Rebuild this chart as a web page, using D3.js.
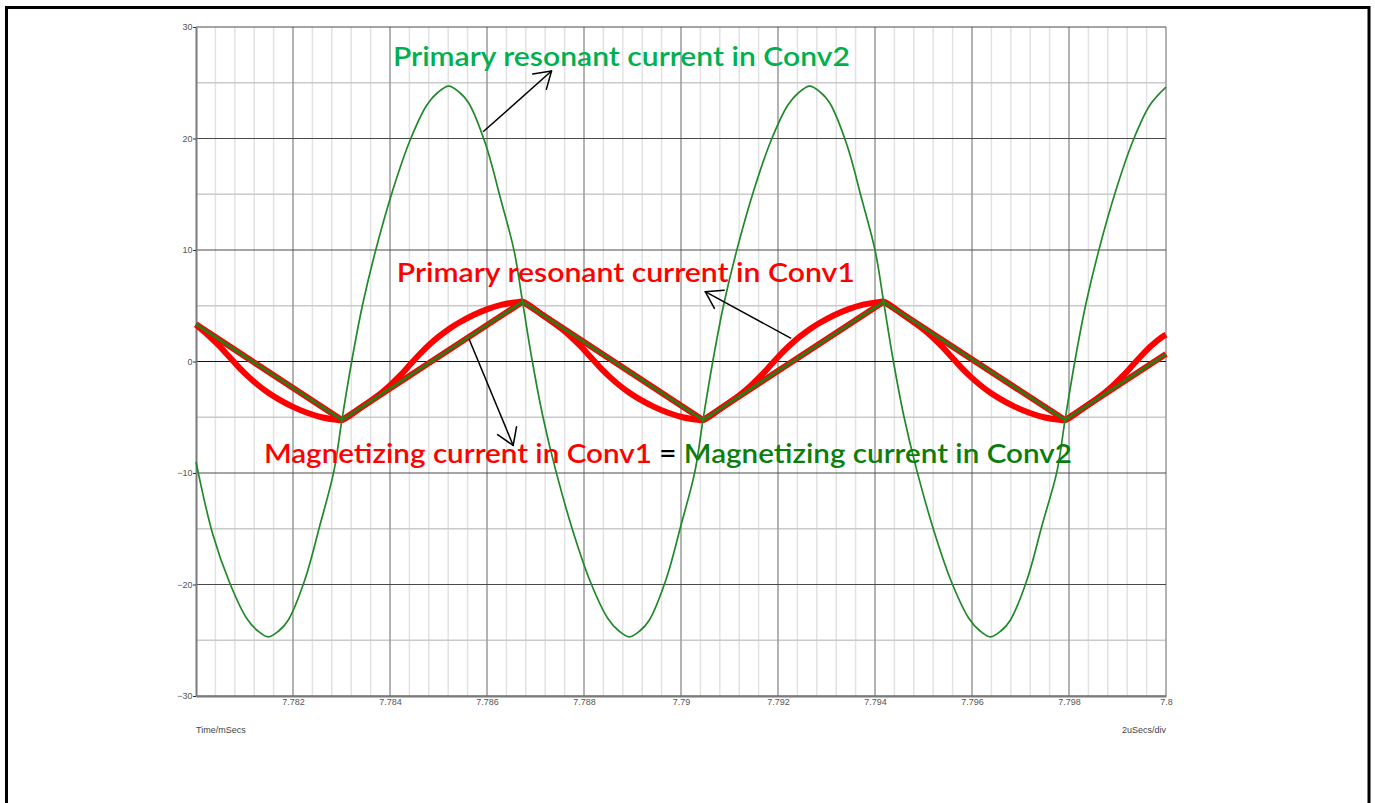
<!DOCTYPE html>
<html>
<head>
<meta charset="utf-8">
<script src="https://cdn.jsdelivr.net/npm/d3@7"></script>
<style>
    body { margin: 0; background: #fff; }
    svg { display: block; }
    .axis text { font-family: "Liberation Sans Narrow", "Arial Narrow", "Liberation Sans", sans-serif; font-size: 9px; fill: #555; }
    .note { font-family: Lato, "Open Sans", sans-serif; font-size: 27px; font-weight: 600; }
    .foot { font-family: "Liberation Sans Narrow", "Arial Narrow", "Liberation Sans", sans-serif; font-size: 9px; fill: #444; }
</style>
</head>
<body>
<div class="container"></div>
<script>
// axis ticks (time in mSecs, current in A)
const xTickValues = [7.782, 7.784, 7.786, 7.788, 7.79, 7.792, 7.794, 7.796, 7.798, 7.8];
const xTickLabels = ["7.782", "7.784", "7.786", "7.788", "7.79", "7.792", "7.794", "7.796", "7.798", "7.8"];
const yTickValues = [-30, -20, -10, 0, 10, 20, 30];
const yMinorValues = [-25, -15, -5, 5, 15, 25];

// primary resonant current in Conv2 [time, current]
const conv2Resonant = [
    [7.780000, -9.0], [7.780340, -15.4], [7.780690, -19.8], [7.781040, -23.0], [7.781270, -24.15],
    [7.781490, -24.7], [7.781710, -24.15], [7.781900, -23.2], [7.782250, -19.5], [7.782560, -14.6],
    [7.782840, -9.9], [7.783010, -5.2],
    [7.783210, 0.0], [7.783430, 5.0], [7.783700, 9.9], [7.784060, 15.4], [7.784410, 19.8],
    [7.784760, 23.0], [7.784990, 24.15], [7.785210, 24.7], [7.785430, 24.15], [7.785620, 23.2],
    [7.785970, 19.5], [7.786280, 14.6], [7.786560, 9.9], [7.786735, 5.3],
    [7.786935, 0.0], [7.787155, -5.0], [7.787425, -9.9], [7.787785, -15.4], [7.788135, -19.8],
    [7.788485, -23.0], [7.788715, -24.15], [7.788935, -24.7], [7.789155, -24.15], [7.789345, -23.2],
    [7.789695, -19.5], [7.790005, -14.6], [7.790285, -9.9], [7.790455, -5.2],
    [7.790655, 0.0], [7.790875, 5.0], [7.791145, 9.9], [7.791505, 15.4], [7.791855, 19.8],
    [7.792205, 23.0], [7.792435, 24.15], [7.792655, 24.7], [7.792875, 24.15], [7.793065, 23.2],
    [7.793415, 19.5], [7.793725, 14.6], [7.794005, 9.9], [7.794180, 5.3],
    [7.794380, 0.0], [7.794600, -5.0], [7.794870, -9.9], [7.795230, -15.4], [7.795580, -19.8],
    [7.795930, -23.0], [7.796160, -24.15], [7.796380, -24.7], [7.796600, -24.15], [7.796790, -23.2],
    [7.797140, -19.5], [7.797450, -14.6], [7.797750, -9.9], [7.797920, -5.2],
    [7.798120, 0.0], [7.798340, 5.0], [7.798610, 9.9], [7.798970, 15.4], [7.799320, 19.8],
    [7.799670, 23.0], [7.800000, 24.6]
];

// primary resonant current in Conv1 [time, current]
const conv1Resonant = [
    [7.780000, 3.3], [7.780290, 2.2], [7.780490, 1.35], [7.780690, 0.4], [7.780890, -0.55],
    [7.781090, -1.4], [7.781290, -2.15], [7.781490, -2.8], [7.781690, -3.35], [7.781990, -4.05],
    [7.782290, -4.6], [7.782590, -5.0], [7.782890, -5.22], [7.783010, -5.25],
    [7.783410, -4.1], [7.783810, -2.85], [7.784010, -2.1], [7.784210, -1.25], [7.784410, -0.3],
    [7.784610, 0.65], [7.784810, 1.5], [7.785010, 2.25], [7.785210, 2.9], [7.785410, 3.45],
    [7.785710, 4.15], [7.786010, 4.7], [7.786310, 5.1], [7.786610, 5.32], [7.786735, 5.36],
    [7.787135, 4.2], [7.787535, 2.95], [7.787735, 2.2], [7.787935, 1.35], [7.788135, 0.4],
    [7.788335, -0.55], [7.788535, -1.4], [7.788735, -2.15], [7.788935, -2.8], [7.789135, -3.35],
    [7.789435, -4.05], [7.789735, -4.6], [7.790035, -5.0], [7.790335, -5.22], [7.790455, -5.25],
    [7.790855, -4.1], [7.791255, -2.85], [7.791455, -2.1], [7.791655, -1.25], [7.791855, -0.3],
    [7.792055, 0.65], [7.792255, 1.5], [7.792455, 2.25], [7.792655, 2.9], [7.792855, 3.45],
    [7.793155, 4.15], [7.793455, 4.7], [7.793755, 5.1], [7.794055, 5.32], [7.794180, 5.36],
    [7.794580, 4.2], [7.794980, 2.95], [7.795180, 2.2], [7.795380, 1.35], [7.795580, 0.4],
    [7.795780, -0.55], [7.795980, -1.4], [7.796180, -2.15], [7.796380, -2.8], [7.796580, -3.35],
    [7.796880, -4.05], [7.797180, -4.6], [7.797480, -5.0], [7.797800, -5.22], [7.797920, -5.25],
    [7.798320, -4.1], [7.798720, -2.85], [7.798920, -2.1], [7.799120, -1.25], [7.799320, -0.3],
    [7.799520, 0.65], [7.799720, 1.5], [7.799920, 2.2], [7.800000, 2.4]
];

// magnetizing current, same in Conv1 and Conv2 [time, current]
const magnetizing = [
    [7.780000, 3.34], [7.783010, -5.25], [7.786735, 5.36], [7.790455, -5.25],
    [7.794180, 5.36], [7.797920, -5.25], [7.800000, 0.68]
];

//Set up chart
const
    svgWidth = 1375,
    svgHeight = 803;

const margin = {
    top: 27,
    right: 209,
    bottom: 107,
    left: 196
};

const svg = d3.select(".container")
    .append("svg")
    .attr("width", svgWidth)
    .attr("height", svgHeight);

// outer frame
svg.append("rect")
    .attr("x", 6.5)
    .attr("y", 7.5)
    .attr("width", 1362.5)
    .attr("height", 820)
    .attr("fill", "none")
    .attr("stroke", "#000")
    .attr("stroke-width", 3);

const x = d3.scaleLinear()
    .domain([7.78, 7.8])
    .range([margin.left, svgWidth - margin.right]);

const y = d3.scaleLinear()
    .domain([-30, 30])
    .range([svgHeight - margin.bottom, margin.top]);

const grid = svg.append("g");

// minor vertical grid, 5 divisions per 2uSecs
const xMinor = d3.range(51).filter(i => i % 5 !== 0).map(i => 7.78 + i * 0.0004);
grid.selectAll(".vminor")
    .data(xMinor)
    .enter()
    .append("line")
    .attr("x1", d => x(d)).attr("x2", d => x(d))
    .attr("y1", y(30)).attr("y2", y(-30))
    .attr("stroke", "#e2e2e2")
    .attr("stroke-width", 1.5);

grid.selectAll(".hminor")
    .data(yMinorValues)
    .enter()
    .append("line")
    .attr("x1", x(7.78)).attr("x2", x(7.8))
    .attr("y1", d => y(d)).attr("y2", d => y(d))
    .attr("stroke", "#cacaca")
    .attr("stroke-width", 1.5);

grid.selectAll(".vmajor")
    .data(xTickValues)
    .enter()
    .append("line")
    .attr("x1", d => x(d)).attr("x2", d => x(d))
    .attr("y1", y(30)).attr("y2", y(-30))
    .attr("stroke", "#9a9a9a")
    .attr("stroke-width", 1.5);

grid.selectAll(".hmajor")
    .data(yTickValues)
    .enter()
    .append("line")
    .attr("x1", x(7.78)).attr("x2", x(7.8))
    .attr("y1", d => y(d)).attr("y2", d => y(d))
    .attr("stroke", d => d === 0 ? "#111" : "#4a4a4a")
    .attr("stroke-width", 1);

//Create Axes
const leftAxis = d3.axisLeft(y)
    .tickValues(yTickValues)
    .tickSize(3)
    .tickSizeOuter(0)
    .tickPadding(0.5);

const bottomAxis = d3.axisBottom(x)
    .tickValues(xTickValues)
    .tickSize(0)
    .tickSizeOuter(0)
    .tickPadding(3)
    .tickFormat((d, i) => xTickLabels[i]);

const yAxis = svg.append("g")
    .attr("class", "axis")
    .attr("transform", `translate(${margin.left}, 0)`)
    .call(leftAxis);
yAxis.select(".domain").attr("stroke", "#7a7a7a").attr("stroke-width", 2);
yAxis.selectAll(".tick line").attr("stroke", "#333");

const xAxis = svg.append("g")
    .attr("class", "axis")
    .attr("transform", `translate(0, ${y(-30)})`)
    .call(bottomAxis);
xAxis.select(".domain").attr("stroke", "#7a7a7a").attr("stroke-width", 2);

svg.append("text")
    .attr("class", "foot")
    .attr("x", x(7.78))
    .attr("y", 733)
    .text("Time/mSecs");

svg.append("text")
    .attr("class", "foot")
    .attr("x", x(7.8))
    .attr("y", 733)
    .attr("text-anchor", "end")
    .text("2uSecs/div");

//Waveforms
const line = d3.line()
    .x(d => x(d[0]))
    .y(d => y(d[1]));

const smooth = d3.line()
    .x(d => x(d[0]))
    .y(d => y(d[1]))
    .curve(d3.curveCatmullRom.alpha(0.5));

const traces = svg.append("g");

traces.append("path")
    .datum(conv1Resonant)
    .attr("d", smooth)
    .attr("fill", "none")
    .attr("stroke", "#ff0000")
    .attr("stroke-width", 6)
    .attr("stroke-linejoin", "round");

traces.append("path")
    .datum(magnetizing)
    .attr("d", line)
    .attr("fill", "none")
    .attr("stroke", "#ff0000")
    .attr("stroke-width", 6)
    .attr("stroke-linejoin", "round");

traces.append("path")
    .datum(magnetizing)
    .attr("d", line)
    .attr("fill", "none")
    .attr("stroke", "#2c7a16")
    .attr("stroke-width", 3);

traces.append("path")
    .datum(conv2Resonant)
    .attr("d", smooth)
    .attr("fill", "none")
    .attr("stroke", "#22892a")
    .attr("stroke-width", 1.7);

//Annotations
const notes = svg.append("g");

function arrow(t1, v1, t2, v2) {
    const x1 = x(t1), y1 = y(v1), x2 = x(t2), y2 = y(v2);
    const ang = Math.atan2(y2 - y1, x2 - x1);
    notes.append("line")
        .attr("x1", x1).attr("y1", y1).attr("x2", x2).attr("y2", y2)
        .attr("stroke", "#000").attr("stroke-width", 1.5);
    [Math.PI - 0.57, Math.PI + 0.57].forEach(a => {
        notes.append("line")
            .attr("x1", x2).attr("y1", y2)
            .attr("x2", x2 + 19 * Math.cos(ang + a))
            .attr("y2", y2 + 19 * Math.sin(ang + a))
            .attr("stroke", "#000").attr("stroke-width", 1.5)
            .attr("stroke-linecap", "round");
    });
}

arrow(7.78592, 20.6, 7.78733, 26.05);
arrow(7.79227, 2.08, 7.79050, 6.26);
arrow(7.78563, 2.02, 7.78654, -7.53);

notes.append("text")
    .attr("class", "note")
    .attr("x", x(7.78406))
    .attr("y", y(26.5))
    .attr("textLength", 457)
    .attr("lengthAdjust", "spacingAndGlyphs")
    .attr("fill", "#00b050")
    .text("Primary resonant current in Conv2");

notes.append("text")
    .attr("class", "note")
    .attr("x", x(7.78414))
    .attr("y", y(7.16))
    .attr("textLength", 458)
    .attr("lengthAdjust", "spacingAndGlyphs")
    .attr("fill", "#ff0000")
    .text("Primary resonant current in Conv1");

const bottomNote = notes.append("text")
    .attr("class", "note")
    .attr("x", x(7.7814))
    .attr("y", y(-9.1))
    .attr("textLength", 808)
    .attr("lengthAdjust", "spacingAndGlyphs");
bottomNote.append("tspan").attr("fill", "#ff0000").text("Magnetizing current in Conv1");
bottomNote.append("tspan").attr("fill", "#000").text(" = ");
bottomNote.append("tspan").attr("fill", "#0b7d0b").text("Magnetizing current in Conv2");
</script>
</body>
</html>
